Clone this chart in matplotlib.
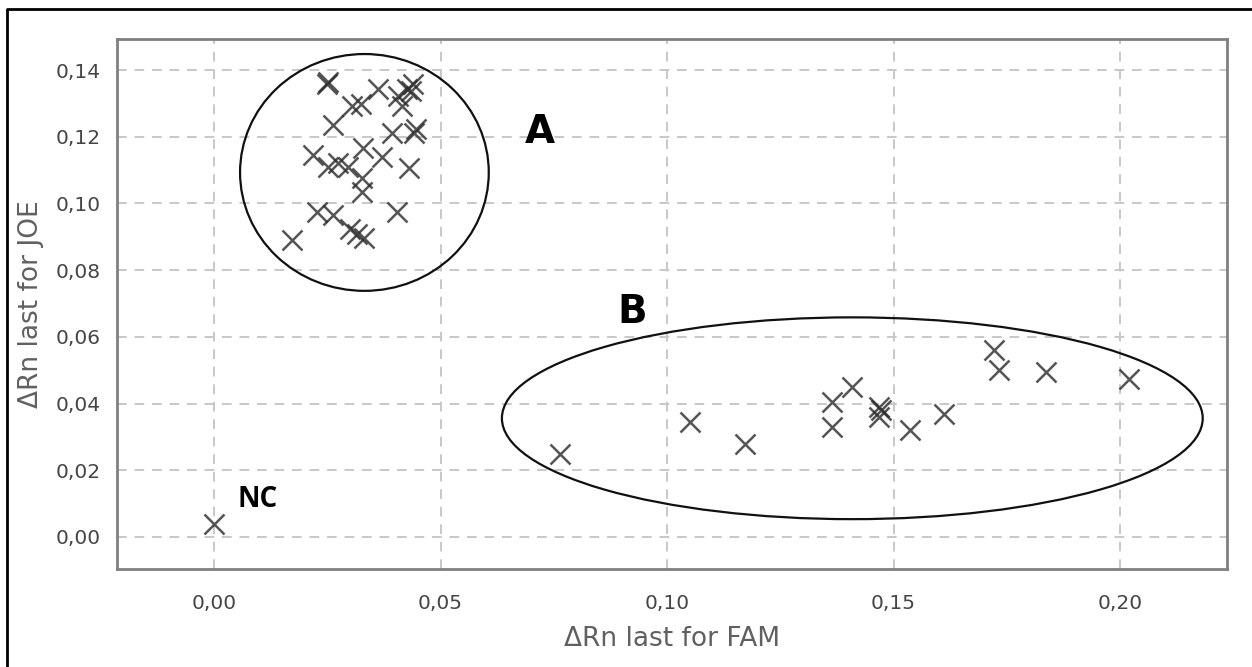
import matplotlib
matplotlib.use("Agg")
import matplotlib.pyplot as plt
from matplotlib.patches import Ellipse
from matplotlib.lines import Line2D
from matplotlib.ticker import FuncFormatter

# -------------------------------
# DATA
# -------------------------------

# group A: low FAM, high JOE
a_fam = [0.0249, 0.0252, 0.0305, 0.0324, 0.0362, 0.0406, 0.0426, 0.0439, 0.0435,
         0.0415, 0.0263, 0.0393, 0.0441, 0.0446, 0.0329, 0.0371, 0.0218, 0.0252,
         0.0274, 0.0296, 0.0430, 0.0327, 0.0327, 0.0227, 0.0263, 0.0404, 0.0300,
         0.0316, 0.0331, 0.0172]
a_joe = [0.1359, 0.1365, 0.1293, 0.1299, 0.1344, 0.1323, 0.1344, 0.1359, 0.1338,
         0.1293, 0.1234, 0.1210, 0.1210, 0.1222, 0.1165, 0.1138, 0.1144, 0.1108,
         0.1120, 0.1108, 0.1105, 0.1075, 0.1033, 0.0973, 0.0964, 0.0973, 0.0922,
         0.0907, 0.0895, 0.0889]

# group B: high FAM, low JOE
b_fam = [0.0763, 0.1051, 0.1172, 0.1364, 0.1364, 0.1408, 0.1469, 0.1469, 0.1472,
         0.1536, 0.1612, 0.1722, 0.1732, 0.1836, 0.2020]
b_joe = [0.0250, 0.0345, 0.0280, 0.0405, 0.0330, 0.0450, 0.0390, 0.0360, 0.0380,
         0.0320, 0.0370, 0.0560, 0.0500, 0.0495, 0.0473]

# negative control
nc_fam = [0.0]
nc_joe = [0.004]

xticks = [0.00, 0.05, 0.10, 0.15, 0.20]
yticks = [0.00, 0.02, 0.04, 0.06, 0.08, 0.10, 0.12, 0.14]

# -------------------------------
# PLOT
# -------------------------------

fig = plt.figure(figsize=(12.52, 6.67), dpi=100)
ax = fig.add_axes([0.0935, 0.1469, 0.8865, 0.7946])

mk = dict(marker="x", linestyle="none", color="#2a2a2a", alpha=0.8,
          markersize=14, markeredgewidth=1.8)
ax.plot(a_fam, a_joe, **mk)
ax.plot(b_fam, b_joe, **mk)
ax.plot(nc_fam, nc_joe, **mk)

# group outlines
ax.add_patch(Ellipse((0.0332, 0.1093), 0.0549, 0.0710, fill=False,
                     edgecolor="#111111", linewidth=1.6))
ax.add_patch(Ellipse((0.1409, 0.0356), 0.1547, 0.0605, fill=False,
                     edgecolor="#111111", linewidth=1.6))

ax.text(0.0719, 0.1213, "A", fontsize=28, fontweight="bold", ha="center", va="center")
ax.text(0.0922, 0.0674, "B", fontsize=28, fontweight="bold", ha="center", va="center")
ax.text(0.0097, 0.0111, "NC", fontsize=20, fontweight="bold",
        family=["Open Sans", "DejaVu Sans"], ha="center", va="center")

ax.set_xlim(-0.0214, 0.2236)
ax.set_ylim(-0.0096, 0.1493)
ax.set_xticks(xticks)
ax.set_yticks(yticks)
comma = lambda fmt: FuncFormatter(lambda v, p: format(v, fmt).replace(".", ","))
ax.xaxis.set_major_formatter(comma(".2f"))
ax.yaxis.set_major_formatter(comma(".2f"))
ax.tick_params(length=0, labelsize=14.5, labelcolor="#454545")
ax.tick_params(axis="x", pad=18)
ax.tick_params(axis="y", pad=12)

ax.grid(True, color="#c8c8c8", linestyle=(0, (5, 4)), linewidth=1.4)
ax.set_axisbelow(True)
for s in ax.spines.values():
    s.set_color("#808080")
    s.set_linewidth(2)

lab = dict(fontsize=19, color="#606060", family=["Liberation Sans Narrow", "DejaVu Sans"])
ax.set_xlabel("ΔRn last for FAM", labelpad=9, **lab)
ax.set_ylabel("ΔRn last for JOE", labelpad=8, **lab)

# screenshot frame (left and top edge only)
fig.add_artist(Line2D([7 / 1252, 7 / 1252, 1], [0, 1 - 9 / 667, 1 - 9 / 667],
                      transform=fig.transFigure, color="black", linewidth=2))

fig.savefig("out.png", dpi=100)
